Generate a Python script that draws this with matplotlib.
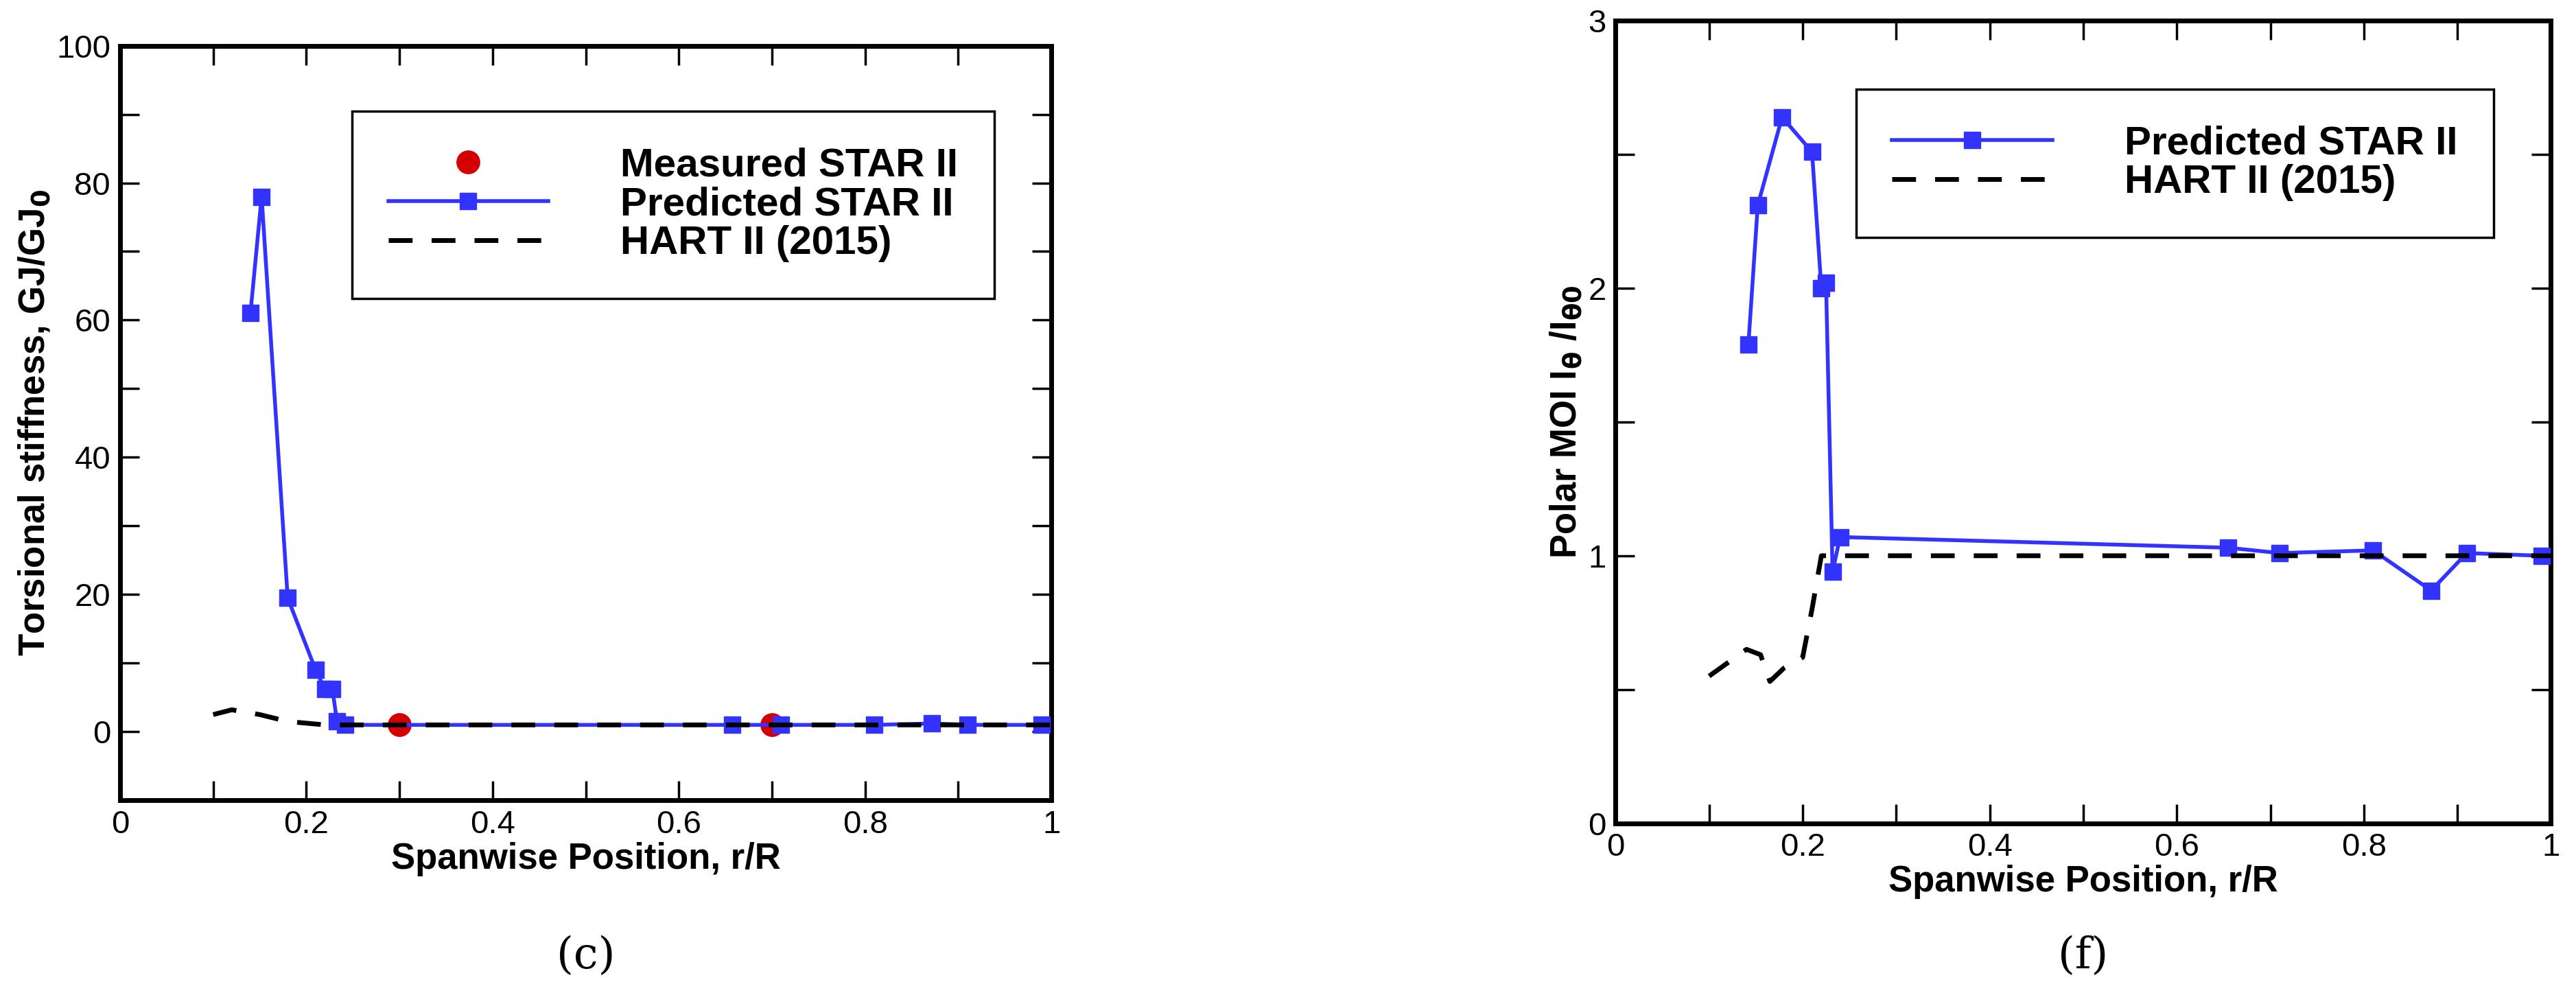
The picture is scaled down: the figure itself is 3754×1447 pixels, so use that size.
import matplotlib
matplotlib.use("Agg")
import matplotlib.pyplot as plt
from matplotlib.ticker import MultipleLocator, FuncFormatter

plt.rcParams['font.family'] = ['Liberation Sans', 'DejaVu Sans']

# Left panel (c)
gj_pred_x = [0.14, 0.152, 0.18, 0.21, 0.22, 0.228, 0.233, 0.242, 0.657, 0.71, 0.81, 0.872, 0.91, 0.99]
gj_pred_y = [61, 78, 19.5, 9, 6.2, 6.2, 1.5, 1.0, 1.0, 1.0, 1.0, 1.2, 1.0, 1.0]
gj_meas_x = [0.3, 0.7]
gj_meas_y = [1.0, 1.0]
gj_hart_x = [0.1, 0.12, 0.15, 0.18, 0.22, 0.24, 1.0]
gj_hart_y = [2.5, 3.2, 2.5, 1.5, 1.0, 1.0, 1.0]

# Right panel (f)
moi_pred_x = [0.142, 0.152, 0.178, 0.21, 0.22, 0.225, 0.232, 0.24, 0.655, 0.71, 0.81, 0.872, 0.91, 0.99]
moi_pred_y = [1.79, 2.31, 2.64, 2.51, 2.0, 2.02, 0.94, 1.07, 1.03, 1.01, 1.02, 0.87, 1.01, 1.0]
moi_hart_x = [0.1, 0.12, 0.14, 0.155, 0.165, 0.18, 0.2, 0.21, 0.22, 0.24, 1.0]
moi_hart_y = [0.55, 0.6, 0.65, 0.63, 0.53, 0.58, 0.62, 0.8, 1.0, 1.0, 1.0]

blue = '#3333ff'
fig = plt.figure(figsize=(37.55, 14.47), dpi=100)
ax1 = fig.add_axes([0.0466, 0.194, 0.3614, 0.76])
ax2 = fig.add_axes([0.627, 0.171, 0.363, 0.808])

def fmt(v, pos):
    if abs(v) < 1e-9:
        return '0'
    if abs(v - round(v)) < 1e-9:
        return str(int(round(v)))
    return f'{v:.1f}'

lw = 4
ax1.plot(gj_meas_x, gj_meas_y, 'o', color='#d40000', ms=24, ls='none', label='Measured STAR II', zorder=3)
ax1.plot(gj_pred_x, gj_pred_y, '-s', color=blue, lw=lw, ms=17, label='Predicted STAR II', zorder=4)
ax1.plot(gj_hart_x, gj_hart_y, '--', color='black', lw=lw + 1, dashes=(5, 4), label='HART II (2015)', zorder=5)
ax1.set_xlim(0, 1); ax1.set_ylim(-10, 100)
ax1.xaxis.set_major_locator(MultipleLocator(0.2)); ax1.xaxis.set_minor_locator(MultipleLocator(0.1))
ax1.yaxis.set_major_locator(MultipleLocator(20)); ax1.yaxis.set_minor_locator(MultipleLocator(10))
ax1.set_ylabel('Torsional stiffness, GJ/GJ$_\\mathbf{0}$', fontsize=38, fontweight='bold')

ax2.plot(moi_pred_x, moi_pred_y, '-s', color=blue, lw=lw, ms=17, label='Predicted STAR II', zorder=4)
ax2.plot(moi_hart_x, moi_hart_y, '--', color='black', lw=lw + 1, dashes=(5, 4), label='HART II (2015)', zorder=5)
ax2.set_xlim(0, 1); ax2.set_ylim(0, 3)
ax2.xaxis.set_major_locator(MultipleLocator(0.2)); ax2.xaxis.set_minor_locator(MultipleLocator(0.1))
ax2.yaxis.set_major_locator(MultipleLocator(1)); ax2.yaxis.set_minor_locator(MultipleLocator(0.5))
ax2.set_ylabel('Polar MOI I$_\\mathbf{\\theta}$ /I$_\\mathbf{\\theta 0}$', fontsize=38, fontweight='bold')

for ax in (ax1, ax2):
    ax.xaxis.set_major_formatter(FuncFormatter(fmt))
    ax.yaxis.set_major_formatter(FuncFormatter(fmt))
    ax.set_xlabel('Spanwise Position, r/R', fontsize=38, fontweight='bold', labelpad=2)
    ax.tick_params(which='both', direction='in', top=True, right=True, labelsize=34, width=2.5, pad=10)
    ax.tick_params(which='major', length=20)
    ax.tick_params(which='minor', length=20)
    for s in ax.spines.values():
        s.set_linewidth(5)
    leg = ax.legend(loc='upper right', bbox_to_anchor=(0.96, 0.94),
                    prop={'weight': 'bold', 'size': 42},
                    fancybox=False, edgecolor='black', handlelength=4.0, labelspacing=0.05, borderpad=0.9,
                    handletextpad=1.8, framealpha=1)
    leg.get_frame().set_linewidth(2.5)

fig.text(0.2273, 0.025, '(c)', fontsize=46, family='DejaVu Serif', ha='center')
fig.text(0.8085, 0.025, '(f)', fontsize=46, family='DejaVu Serif', ha='center')
fig.savefig('out.png', dpi=100)
